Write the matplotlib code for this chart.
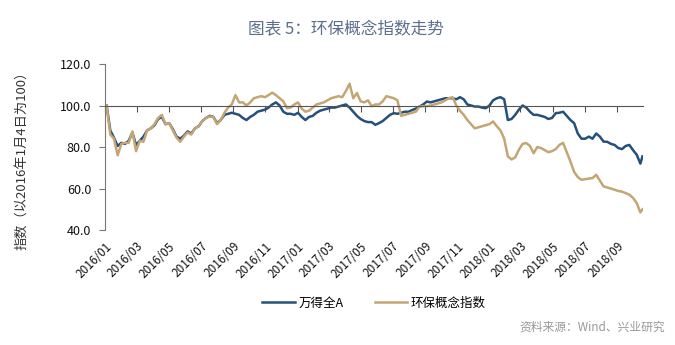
import matplotlib
matplotlib.use('Agg')
import numpy as np
import pandas as pd
import matplotlib.pyplot as plt
import matplotlib.dates as mdates

plt.rcParams['font.family'] = ['Noto Sans CJK SC', 'DejaVu Sans']

# weekly closes, index 2016-01-04 = 100, plus the last day
dates = list(pd.date_range('2016-01-04', periods=146, freq='7D')) + [pd.Timestamp('2018-10-19')]

wind_a = [100, 88, 84.5, 80.5, 82, 81.5, 83, 87, 81, 83,
          85, 88, 89, 90.5, 93.5, 94.5, 91, 91.5, 88.5, 85,
          84, 85.5, 87.5, 86.5, 89, 90, 92.5, 94, 95, 94.5,
          91.5, 93, 95.5, 96, 96.5, 96, 95.5, 94, 93, 94.5,
          95.5, 97, 97.5, 98, 99, 100.5, 101.5, 100, 97, 96,
          96, 95.5, 96.5, 94.5, 93, 94.5, 95, 96.5, 97.5, 98,
          98.5, 99, 99, 99.5, 100, 100.5, 99, 97, 95, 93.5,
          92.5, 92, 92, 90.7, 91.5, 92.5, 94, 95.5, 96.3, 96,
          96.5, 97, 97, 97.8, 98.5, 99.5, 100.5, 101.9, 101.5, 102,
          102.5, 103, 103.5, 103.5, 103.5, 103, 104, 103, 100.5, 100,
          99.5, 99.5, 99, 98.7, 100, 102.5, 103.5, 104, 103, 93,
          93.5, 95.5, 98, 100, 99, 97, 95.5, 95.5, 95, 94.5,
          93.5, 94, 96.3, 96.5, 97, 95, 93, 91.5, 86.5, 84,
          84, 85, 84, 86.5, 85, 82.6, 82.5, 81.5, 81, 79.5,
          79, 80.5, 81, 78.5, 76.3, 72, 75.5]

huanbao = [100, 86, 84, 76, 81.5, 82, 82, 87.5, 78, 83,
           82.5, 88, 89, 91, 94, 95.5, 91, 91.5, 88, 84.5,
           82.5, 85, 87, 86, 89, 90, 92.5, 94, 94.7, 94.5,
           91, 93, 96.5, 99, 100.5, 105, 101.5, 101.5, 100, 101.5,
           103.5, 104, 104.5, 104, 105, 106.2, 105, 103.5, 102, 98.7,
           99, 100.5, 101.5, 98.5, 97, 97.5, 99, 100.5, 101, 101.5,
           102.5, 103.5, 104, 104.5, 104, 107, 110.5, 103.5, 106, 102,
           101.5, 102.5, 99.7, 100.5, 100.5, 102, 104.5, 104, 103.5, 102.5,
           95, 95.5, 96, 96.5, 97, 99.5, 99.7, 99.7, 100, 100.5,
           101, 101.5, 102.5, 103.5, 104, 100, 97.5, 95.5, 93, 91,
           89, 89.5, 90, 90.5, 91, 92.3, 90, 88, 84, 75.5,
           74, 75, 78.7, 81.5, 81.9, 80.5, 77, 80, 79.5, 78.5,
           77.5, 78, 79, 81, 82, 77.5, 73, 68, 65.5, 64.2,
           64.5, 64.8, 65, 66.6, 63.8, 61, 60.5, 60, 59.4, 58.8,
           58.5, 57.8, 57, 55.5, 53, 48.5, 50]

series_names = ['万得全A', '环保概念指数']
series_colors = ['#25507a', '#c4a574']

y_ticks = [40, 60, 80, 100, 120]
x_ticks = pd.date_range('2016-01-01', '2018-09-01', freq='2MS')

fig = plt.figure(figsize=(6.75, 3.45), dpi=100)
ax = fig.add_axes([0.1556, 0.3333, 0.797, 0.4812])

ax.plot(dates, wind_a, color=series_colors[0], lw=1.8, label=series_names[0])
ax.plot(dates, huanbao, color=series_colors[1], lw=1.8, label=series_names[1])

ax.set_ylim(40, 120)
ax.set_xlim(pd.Timestamp('2016-01-01'), pd.Timestamp('2018-10-20'))
ax.set_yticks(y_ticks)
ax.set_yticklabels(['%.1f' % v for v in y_ticks], fontsize=9, color='#111111')

# horizontal axis crosses at 100, labels sit low
for s in ['top', 'right']:
    ax.spines[s].set_visible(False)
ax.spines['bottom'].set_position(('data', 100))
ax.spines['bottom'].set_color('#555555')
ax.spines['left'].set_color('#777777')
ax.set_xticks(x_ticks)
ax.tick_params(axis='x', length=4, color='#555555', labelbottom=False)
ax.tick_params(axis='y', length=4, color='#777777', pad=6)

sec = ax.secondary_xaxis(0.0)
sec.set_xticks(x_ticks)
sec.xaxis.set_major_formatter(mdates.DateFormatter('%Y/%m'))
sec.spines['bottom'].set_visible(False)
sec.tick_params(axis='x', length=0, pad=7, labelsize=8.5, labelcolor='#111111')
for lab in sec.get_xticklabels():
    lab.set_rotation(45)
    lab.set_ha('right')
    lab.set_rotation_mode('anchor')

fig.text(0.0326, 0.545, '指数（以2016年1月4日为100）', rotation=90,
         ha='center', va='center', fontsize=9.5, color='#333333')

fig.text(0.512, 0.918, '图表 5：环保概念指数走势', ha='center', va='center',
         fontsize=12, color='#5b6e8a')

ax.legend(loc='center', bbox_to_anchor=(0.5, -0.44), ncol=2, frameon=False,
          fontsize=9, handlelength=2.6, columnspacing=2.5, handletextpad=0.3)

fig.text(0.985, 0.052, '资料来源：Wind、兴业研究', ha='right', va='center',
         fontsize=8.5, color='#999999')

fig.savefig('out.png', dpi=100, facecolor='white')
